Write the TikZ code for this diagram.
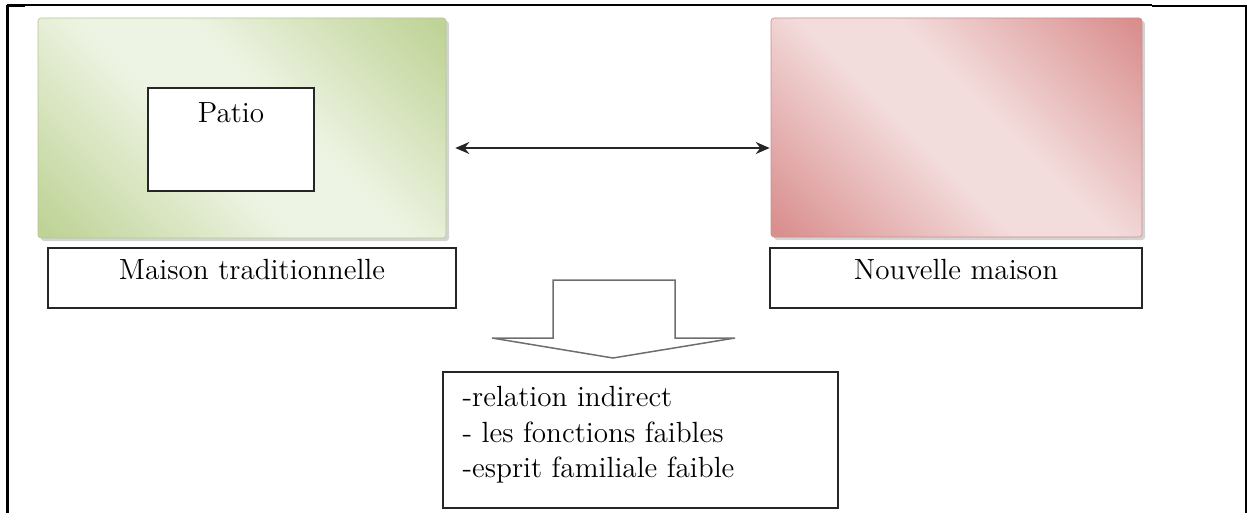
\documentclass[tikz,border=0pt]{standalone}
\usetikzlibrary{arrows.meta,shadows,calc}
\definecolor{gdark}{HTML}{BFD396}
\definecolor{glight}{HTML}{EEF4E4}
\definecolor{rdark}{HTML}{D98F8E}
\definecolor{rlight}{HTML}{F3DCDC}
\definecolor{arrowgrey}{HTML}{6E6E6E}
\pgfdeclareverticalshading{gband}{100bp}{color(0bp)=(gdark); color(16bp)=(gdark); color(44bp)=(glight); color(56bp)=(glight); color(84bp)=(gdark); color(100bp)=(gdark)}
\pgfdeclareverticalshading{rband}{100bp}{color(0bp)=(rdark); color(16bp)=(rdark); color(44bp)=(rlight); color(56bp)=(rlight); color(84bp)=(rdark); color(100bp)=(rdark)}
\begin{document}
\begin{tikzpicture}[x=0.5pt,y=-0.5pt,
  font=\fontsize{14.6}{17.75}\selectfont,
  house/.style={rectangle, rounded corners=1.5pt, inner sep=0pt, draw=#1dark!85!gray, line width=0.3pt,
    shading=#1band, shading angle=-45,
    drop shadow={shadow xshift=1.5pt, shadow yshift=-1.5pt, opacity=0.35, fill=gray}},
  boxline/.style={draw=black!85, line width=0.75pt, fill=white},
  labelbox/.style={boxline, inner sep=0pt, text height=15.5pt, text depth=14.5pt, minimum height=30pt},
  frame/.style={line width=1.1pt, black},
  thinframe/.style={line width=0.6pt, black},
  blockarrow/.style={draw=arrowgrey, line width=0.75pt, fill=white, line join=miter},
  link/.style={{Stealth[length=7pt,width=6pt]}-{Stealth[length=7pt,width=6pt]}, line width=0.75pt, black!85}
]
\useasboundingbox (0,0) rectangle (1251,513);

% page frame
\draw[thinframe] (7,5) -- (1152,5);
\draw[frame] (7,5.5) -- (25,5.5);
\draw[frame] (1152,6) -- (1246,6);
\draw[frame] (7.5,5) -- (7.5,513);
\draw[frame] (1246,5.5) -- (1246,513);

% coloured boxes
\node[house=g, minimum width=204pt, minimum height=110pt] (green) at (242,128) {};
\node[house=r, minimum width=185.5pt, minimum height=109.5pt] (red) at (956.5,127.5) {};

% patio
\node[boxline, inner sep=0pt, minimum width=83pt, minimum height=51.5pt] (patio) at (231,139.5) {};
\node[anchor=base, inner sep=0pt] (patiotext) at ($(patio.north)+(0,35)$) {Patio};

% labels
\node[labelbox, minimum width=204pt] (trad) at (252,278) {Maison traditionnelle};
\node[labelbox, minimum width=186pt] (nouv) at (956,278) {Nouvelle maison};

% double arrow
\draw[link] ($(green.east)+(9,20)$) -- ($(red.west)+(-1,20.5)$);

% block arrow
\draw[blockarrow] (553,338) -- (553,280) -- (675,280) -- (675,338) -- (735,338) -- (613,358) -- (492,338) -- cycle;

% result box
\node[boxline, inner sep=0pt, minimum width=197.5pt, minimum height=68pt] (res) at (640.5,440) {};
\node[anchor=north west, align=left, inner sep=0pt] (restext) at ($(res.north west)+(20,15)$)
  {-relation indirect\\- les fonctions faibles\\-esprit familiale faible};
\end{tikzpicture}
\end{document}
